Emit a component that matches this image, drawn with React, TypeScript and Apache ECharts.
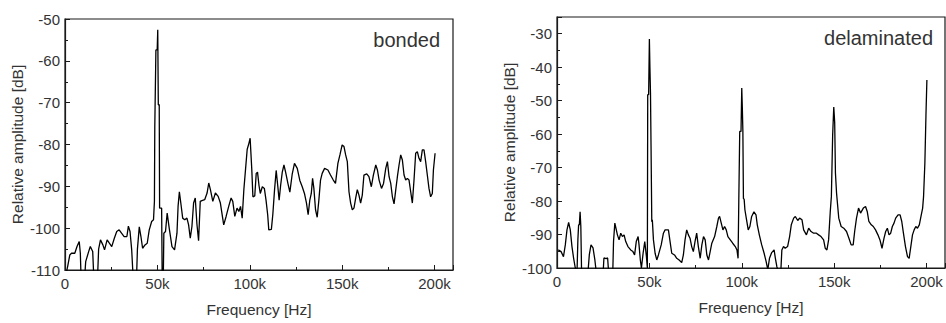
import React, { useEffect, useRef } from "react";
import * as echarts from "echarts";

// Frequency axis ticks (kHz) and amplitude ranges
const freqTicks = [0, 50, 100, 150, 200];
const bondedRange = [-110, -50];
const delamRange = [-100, -25];

// Bonded specimen spectrum: frequency in kHz, relative amplitude in dB
const bondedFreq = [
  0.8, 1.5, 2.6, 3.5, 5.3, 6.5, 7.7, 8.3, 8.7, 10.6, 11.2, 12.8, 13.7, 15, 15.6, 17.6, 18.2, 19.2, 20.5, 21.4,
  22.8, 24, 25.3, 26.7, 28, 29.3, 30.6, 32, 33.5, 34.3, 35.2, 36.1, 36.9, 38.7, 39.2, 40.2, 41.1, 42, 43.3, 44.5,
  45.6, 46.9, 47.9, 48.4, 48.6, 49.2, 49.9, 50.2, 50.5, 51.0, 51.2, 52.3, 52.6, 53.2, 53.5, 54.4, 55.3, 56.4, 57.9, 59.3,
  60.6, 61.2, 61.9, 62.8, 63.7, 64.8, 66, 66.9, 67.8, 68.7, 69.6, 70.5, 71.4, 72.3, 73.2, 74.1, 75.6, 76.9, 77.8, 78.7,
  80, 81.4, 82.9, 84.1, 85.9, 87.2, 88.6, 89.9, 90.8, 91.9, 93.1, 94.1, 95, 95.9, 96.8, 97.7, 98.6, 99.6, 100.2, 101.1,
  101.7, 102.7, 103.5, 104.2, 105, 105.7, 106.8, 107.9, 108.8, 109.7, 110.3, 111.7, 112.5, 113.4, 114.3, 115.2, 115.9, 116.7, 117.6, 118.5,
  119.4, 120.7, 121.7, 123, 124.2, 125.7, 127.1, 128.4, 129.6, 130.7, 131.6, 132.5, 133.3, 134, 134.7, 135.6, 136.5, 137.4, 138.3, 139.2,
  140.5, 142.3, 143.7, 145.2, 146.4, 147.7, 148.8, 150, 151, 151.9, 152.8, 153.7, 154.6, 155.5, 156.4, 157.3, 158.2, 159.1, 160, 160.9,
  161.8, 163.3, 164.5, 165.8, 166.9, 168.2, 169.1, 170, 171.3, 172.4, 173.6, 174.5, 175.4, 176.3, 177.2, 178.1, 179, 179.9, 180.8, 181.7,
  182.6, 183.5, 184.4, 185.3, 186.2, 187.1, 188, 188.9, 189.8, 190.7, 191.6, 192.5, 193.4, 194.3, 195.2, 196.1, 197, 197.9, 198.8, 199.4,
  200.3,
];
const bondedAmp = [
  -110.5, -109, -106.4, -106, -106, -104.4, -103.2, -106, -112, -112, -108, -105.6, -104.4, -105.6, -112, -112, -105, -102.8, -104, -105.2,
  -102.8, -103.6, -104.4, -102.4, -100.8, -100.4, -101.2, -102, -102, -99.5, -100.8, -105.2, -112, -112, -105, -99.7, -102, -104.8, -104, -103.6,
  -100.4, -98.4, -98, -93.6, -75.7, -57.4, -57.4, -52.6, -70.5, -70.5, -95.2, -95.2, -112, -112, -101.2, -100.8, -96.4, -100, -104.4, -105.2,
  -101.2, -94.8, -91.3, -94.4, -97.6, -98, -97.6, -99.2, -102.4, -99.6, -94, -92.8, -99, -103, -93.6, -93.4, -93.2, -91.6, -89.2, -90.8,
  -93.6, -91.6, -92.4, -94, -99.2, -97.2, -94.8, -92.8, -93.6, -97.2, -95.2, -96, -94.8, -97.6, -90.8, -86, -81.2, -79.6, -78.5, -86,
  -92.5, -92.3, -86.9, -86.6, -89.8, -91.7, -90.1, -90.5, -93.3, -96.8, -100.4, -100.3, -96.6, -90.9, -86.2, -90.1, -93.3, -89.8, -86.6, -84.9,
  -86.6, -89.4, -91.4, -87, -84.5, -85.7, -88.6, -90.1, -91.7, -94, -96.8, -93.3, -91.7, -88.1, -90.5, -95.6, -97.4, -93.3, -88.5, -86.9,
  -85.7, -86.1, -87.3, -88.5, -89.3, -84.5, -82.5, -80.1, -80.5, -82.5, -84.1, -91.3, -94, -95.6, -95.2, -92.9, -90.8, -92.1, -94, -92.1,
  -87.3, -87, -87.7, -90.1, -87.3, -84.9, -86.1, -88.5, -90.5, -89.3, -85.7, -84.1, -87.7, -89.3, -92.5, -94.2, -90.9, -87.7, -84.9, -82.5,
  -83.7, -87.3, -88.5, -88.1, -88.5, -91.3, -94, -88.5, -82.1, -81.7, -83.3, -84.1, -81.3, -81.3, -84.1, -87.3, -90.5, -92.5, -91.7, -86.1,
  -82.1,
];

// Delaminated specimen spectrum: frequency in kHz, relative amplitude in dB
const delamFreq = [
  0.7, 2.2, 3.5, 4.5, 5.4, 6.3, 7.2, 8.1, 9, 9.9, 10.8, 11.3, 11.7, 12.1, 12.5, 12.9, 13.3, 16.8, 17.5, 18.4,
  19.5, 20.5, 21.2, 25, 25.4, 26.6, 27.4, 27.9, 30.2, 30.6, 31.3, 32.7, 33.6, 34.5, 35.4, 36.3, 37.2, 38.4, 39.9, 41.1,
  42, 42.9, 43.9, 44.4, 45.1, 45.7, 46.6, 47.5, 48.4, 48.9, 49.1, 49.6, 50, 50.3, 50.6, 50.9, 51.3, 51.6, 52.2, 53.1,
  54, 54.9, 56.4, 57.6, 58.5, 60.3, 61.2, 62.1, 63.6, 64.8, 66.1, 67.5, 68.4, 69.3, 70.2, 71.1, 72, 72.9, 73.8, 74.7,
  75.6, 76.5, 77.5, 78.4, 79.3, 80.2, 81.1, 82, 82.9, 83.8, 85.3, 86.5, 87.4, 88, 88.9, 89.8, 90.7, 91.6, 92.5, 93.8,
  95.1, 96.5, 97.4, 98, 98.4, 98.9, 99.6, 100, 100.3, 100.6, 100.9, 101.3, 101.7, 102.6, 103.5, 104.4, 105.3, 106.6, 107.7, 108.4,
  109.5, 110.8, 112.1, 113.2, 114.1, 115, 116.2, 117.5, 118.2, 119, 119.9, 121.1, 121.7, 122.6, 123.5, 124.8, 125.9, 126.8, 128.1, 129,
  130.3, 131.3, 132.6, 133.5, 135, 136.2, 137.5, 138.9, 140.4, 141.6, 142.9, 144.3, 145.2, 146.1, 147, 147.9, 148.5, 149.2, 149.8, 150.3,
  150.7, 151.3, 152.5, 153.8, 155.2, 156.7, 158, 159.2, 160.3, 161.1, 162.1, 163.2, 164.3, 165.8, 167, 167.9, 168.8, 170.1, 171.2, 172.4,
  173.7, 174.8, 175.9, 177, 177.9, 178.8, 179.7, 180.6, 181.5, 182.4, 183.3, 184.6, 185.7, 186.6, 187.5, 188.6, 189.7, 190.6, 191.5, 192.4,
  193.3, 194.2, 195.1, 196.1, 197, 197.9, 198.4, 199.1, 199.7, 200.2,
];
const delamAmp = [
  -94.6, -95.1, -96.6, -93.1, -88.6, -86.4, -88.6, -93.6, -97.1, -100, -102, -91.6, -87.1, -87.1, -83.2, -87.6, -101, -101, -96, -93.1,
  -94, -97.6, -101, -101, -97, -97.2, -97, -101, -101, -92, -86.6, -90.1, -91.6, -89.6, -90.6, -90.1, -92.1, -93.6, -94.6, -95.1,
  -96.1, -92.1, -90.6, -93.1, -97.6, -100, -95.6, -92.1, -96.6, -100, -48.2, -48.2, -31.6, -40.3, -47.7, -63.7, -86.2, -85.6, -91.6, -95.6,
  -97.6, -96.1, -93.1, -89.6, -88.6, -88.6, -92.1, -95.6, -96.1, -97.1, -97.6, -98.4, -96.1, -91.6, -88.6, -90.1, -91.1, -93.6, -95.1, -92.1,
  -89.6, -93.6, -97.1, -93.1, -90.6, -91.6, -96.1, -97.6, -95.1, -92.6, -90.6, -87.6, -85.1, -84.6, -86.6, -88.6, -87.6, -88.6, -90.6, -91.6,
  -92.6, -93.6, -94.6, -97.1, -80, -59.2, -59.2, -46.2, -52, -59, -79.2, -79.5, -82.6, -85.6, -88.6, -87.6, -84.7, -83.2, -84.1, -87.1,
  -90.1, -93.1, -95.6, -98.1, -100.5, -97.1, -95.4, -94.6, -97.1, -99.6, -101.5, -101.5, -94.6, -93.6, -94.1, -93.6, -90.6, -87.1, -85.1, -84.6,
  -85.8, -85.1, -85.6, -88.6, -90.1, -88.1, -89.1, -89.6, -89.6, -90.1, -90.6, -91.6, -94.1, -94.6, -91.6, -83.1, -78.6, -60.2, -51.9, -56.6,
  -71.6, -77.6, -85.1, -87.6, -88.1, -89.1, -91.1, -93.1, -93.1, -89.1, -85.1, -82.1, -83.6, -82.1, -81.6, -83.1, -86.1, -87.1, -87.6, -88.6,
  -90.1, -91.6, -94.1, -91.1, -89.1, -88.1, -90.1, -89.6, -87.6, -86.6, -85.1, -84.1, -84.1, -86.1, -89.6, -93.6, -96.6, -97.1, -93.6, -90.1,
  -88.6, -87.6, -88.1, -87.1, -84.6, -82.1, -78.6, -68.7, -54.2, -43.8,
];

const FONT = '"Liberation Sans", Arial, Helvetica, sans-serif';
const TEXT = "#333";
const INK = "#1a1a1a";

const pairs = (xs: number[], ys: number[]) => xs.map((x, i) => [x, ys[i]]);

const fmtFreq = (v: number) => (v === 0 ? "0" : `${v}k`);

function xAxisFor(gridIndex: number) {
  return {
    type: "value",
    gridIndex,
    min: freqTicks[0],
    max: 210,
    interval: freqTicks[1] - freqTicks[0],
    name: "Frequency [Hz]",
    nameLocation: "middle",
    nameGap: 31,
    nameTextStyle: { fontFamily: FONT, fontSize: 15.5, color: TEXT },
    axisLine: { show: true, lineStyle: { color: INK, width: 1.2 } },
    axisTick: { show: true, inside: true, length: 5, lineStyle: { color: INK } },
    minorTick: { show: true, splitNumber: 2, length: 3, lineStyle: { color: INK } },
    splitLine: { show: false },
    axisLabel: {
      fontFamily: FONT,
      fontSize: 15,
      color: TEXT,
      margin: 6,
      showMaxLabel: false,
      formatter: (v: number) => (freqTicks.includes(v) ? fmtFreq(v) : ""),
    },
  };
}

function yAxisFor(gridIndex: number, range: number[]) {
  return {
    type: "value",
    gridIndex,
    min: range[0],
    max: range[1],
    interval: 10,
    name: "Relative amplitude [dB]",
    nameLocation: "middle",
    nameGap: 40,
    nameTextStyle: { fontFamily: FONT, fontSize: 15.5, color: TEXT },
    axisLine: { show: true, lineStyle: { color: INK, width: 1.2 } },
    axisTick: { show: true, inside: true, length: 5, lineStyle: { color: INK } },
    minorTick: { show: true, splitNumber: 2, length: 3, lineStyle: { color: INK } },
    splitLine: { show: false },
    axisLabel: {
      fontFamily: FONT,
      fontSize: 15,
      color: TEXT,
      margin: 5,
      showMaxLabel: range[1] % 10 === 0,
    },
  };
}

export default function App() {
  const ref = useRef<HTMLDivElement>(null);

  useEffect(() => {
    document.body.style.margin = "0";
    const chart = echarts.init(ref.current!, null, { renderer: "svg" });
    chart.setOption({
      animation: false,
      backgroundColor: "#ffffff",
      grid: [
        { left: 65, top: 19, width: 388, height: 251, show: true, borderColor: INK, borderWidth: 1.2, backgroundColor: "transparent" },
        { left: 557, top: 17, width: 388, height: 251, show: true, borderColor: INK, borderWidth: 1.2, backgroundColor: "transparent" },
      ],
      xAxis: [xAxisFor(0), xAxisFor(1)],
      yAxis: [yAxisFor(0, bondedRange), yAxisFor(1, delamRange)],
      series: [
        {
          type: "line",
          name: "bonded",
          xAxisIndex: 0,
          yAxisIndex: 0,
          data: pairs(bondedFreq, bondedAmp),
          showSymbol: false,
          clip: true,
          lineStyle: { color: "#000", width: 1.3 },
        },
        {
          type: "line",
          name: "delaminated",
          xAxisIndex: 1,
          yAxisIndex: 1,
          data: pairs(delamFreq, delamAmp),
          showSymbol: false,
          clip: true,
          lineStyle: { color: "#000", width: 1.3 },
        },
      ],
      graphic: [
        {
          type: "text",
          right: 946 - 440,
          top: 30,
          style: { text: "bonded", fontFamily: FONT, fontSize: 20, fill: TEXT },
        },
        {
          type: "text",
          right: 946 - 933,
          top: 28,
          style: { text: "delaminated", fontFamily: FONT, fontSize: 20, fill: TEXT },
        },
      ],
    });
    return () => chart.dispose();
  }, []);

  return <div ref={ref} style={{ width: 946, height: 323 }} />;
}
